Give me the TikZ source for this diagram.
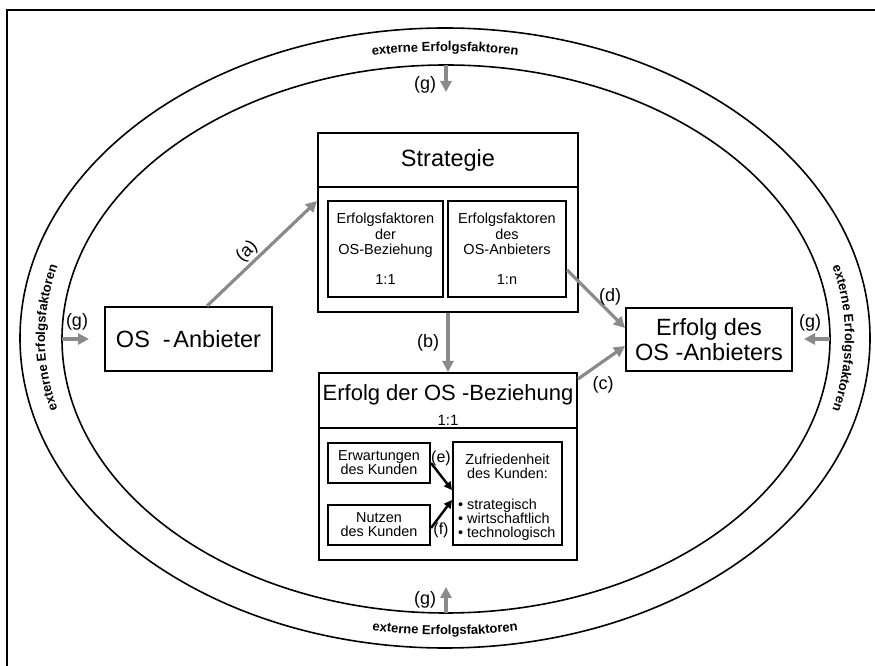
\documentclass[tikz,border=0pt]{standalone}
\usepackage{fontspec}
\setmainfont{Liberation Sans}
\usetikzlibrary{arrows.meta,decorations.text,calc}
\definecolor{arrgray}{RGB}{138,138,138}
\newcommand\ringfont{\bfseries\fontsize{13}{13}\selectfont}
\begin{document}
\begin{tikzpicture}[x=1pt,y=1pt,
  box/.style={draw, line width=2pt, inner sep=0pt, align=center},
  garrow/.style={draw=arrgray, line width=3.2pt, -{Triangle[length=11pt,width=11pt]}},
  barrow/.style={draw=black, line width=2.4pt, -{Triangle[length=8pt,width=8pt]}},
  lbl/.style={inner sep=1pt, font=\fontsize{18}{18}\selectfont},
  slbl/.style={inner sep=1pt, font=\fontsize{16}{16}\selectfont},
  ring/.style={line width=1.6pt},
  big/.style={font=\fontsize{23.5}{25}\selectfont},
  small/.style={font=\fontsize{14.4}{14}\selectfont},
  ringtext/.style={decorate, decoration={text along path, text align=center,
     text={|\ringfont|externe Erfolgsfaktoren}}}
]
\useasboundingbox (0,0) rectangle (875,666);
% frame
\draw[line width=1.8pt] (7,0) -- (7,656) -- (875,656);
% ellipses
\draw[ring] (445,328) ellipse [x radius=425pt, y radius=310pt];
\draw[ring] (446,327) ellipse [x radius=384pt, y radius=274pt];
% ring texts
\path[ringtext] (445,328) ++(120:400pt and 287pt) arc[start angle=120, end angle=60, x radius=400pt, y radius=287pt];
\path[ringtext] (445,328) ++(210:400pt and 287pt) arc[start angle=210, end angle=150, x radius=400pt, y radius=287pt];
\path[ringtext] (445,328) ++(30:400pt and 287pt) arc[start angle=30, end angle=-30, x radius=400pt, y radius=287pt];
\path[ringtext] (445,328) ++(240:410pt and 297pt) arc[start angle=240, end angle=300, x radius=410pt, y radius=297pt];

% Strategie
\node[box, minimum width=260pt, minimum height=179pt] (strat) at (448,443.5) {};
\coordinate (sdiv) at (0,479);
\draw[line width=2pt] (strat.west |- sdiv) -- (strat.east |- sdiv);
\node[big] (stitle) at (448,506) {Strategie};
\node[box, small, font=\fontsize{14.5}{15.5}\selectfont, minimum width=115pt, minimum height=96pt] (inL) at (385.5,417)
  {Erfolgsfaktoren\\der\\OS-Beziehung\\[14.5pt]1:1};
\node[box, small, font=\fontsize{14.5}{15.5}\selectfont, minimum width=118pt, minimum height=96pt] (inR) at (507,417)
  {Erfolgsfaktoren\\des\\OS-Anbieters\\[14.5pt]1:n};

% OS-Anbieter
\node[box, big, minimum width=167pt, minimum height=64pt] (os) at (188.5,327)
  {OS\hspace{0.55em}-\hspace{0.12em}Anbieter};
% Erfolg des OS-Anbieters
\node[box, big, minimum width=166pt, minimum height=63pt] (anb) at (709,326.5)
  {Erfolg des\\OS -Anbieters};

% Erfolg der OS-Beziehung
\node[box, minimum width=258pt, minimum height=187pt] (bez) at (448,199.5) {};
\coordinate (bdiv) at (0,238);
\draw[line width=2pt] (bez.west |- bdiv) -- (bez.east |- bdiv);
\node[font=\fontsize{22}{22}\selectfont, inner sep=0pt] (btitle) at (448,271) {Erfolg der OS -Beziehung};
\node[font=\fontsize{15}{15}\selectfont, inner sep=0pt] (b11) at (448,246) {1:1};

\node[box, small, minimum width=102pt, minimum height=40pt] (erw) at (379,203) {Erwartungen\\des Kunden};
\node[box, small, minimum width=102pt, minimum height=40pt] (nutz) at (379,141) {Nutzen\\des Kunden};
\node[box, minimum width=109pt, minimum height=103pt] (zuf) at (507.5,172.5) {};
\node[small, align=center, inner sep=0pt] (zh) at (507.5,200) {Zufriedenheit\\des Kunden:};
\node[small, align=left, anchor=west, inner sep=0pt] (zl) at (458,146.5)
  {• strategisch\\• wirtschaftlich\\• technologisch};

% gray arrows
\draw[garrow] ([xshift=18.5pt]os.north) -- ([yshift=21.5pt]strat.west);
\draw[garrow] (strat.south) -- (bez.north);
\draw[garrow] ([yshift=-7pt]bez.north east) -- ([yshift=-6.5pt]anb.west);
\draw[garrow] ([yshift=-21pt]inR.east) -- ([yshift=11.5pt]anb.west);
% black arrows
\draw[barrow] (erw.east) -- ([yshift=3.5pt]zuf.west);
\draw[barrow] ([yshift=-3pt]nutz.east) -- ([yshift=-6.5pt]zuf.west);

% g arrows
\coordinate (gt1) at (446,601); \coordinate (gt2) at (446,574);
\coordinate (gb1) at (446,53);  \coordinate (gb2) at (446,79);
\coordinate (gl1) at (62,327);  \coordinate (gl2) at (89,327);
\coordinate (gr1) at (830,327); \coordinate (gr2) at (804,327);
\draw[garrow] (gt1) -- (gt2);
\draw[garrow] (gb1) -- (gb2);
\draw[garrow] (gl1) -- (gl2);
\draw[garrow] (gr1) -- (gr2);

% labels
\node[lbl, rotate=44] (la) at (247,414) {(a)};
\node[lbl] (lb) at (428,323) {(b)};
\node[lbl] (lc) at (603,281) {(c)};
\node[lbl] (ld) at (610,369) {(d)};
\node[slbl] (le) at (441,208) {(e)};
\node[slbl] (lf) at (441,136) {(f)};
\node[lbl] (lgt) at (425,581) {(g)};
\node[lbl] (lgb) at (425,66) {(g)};
\node[lbl] (lgl) at (77,344) {(g)};
\node[lbl] (lgr) at (810,343) {(g)};
\end{tikzpicture}
\end{document}
